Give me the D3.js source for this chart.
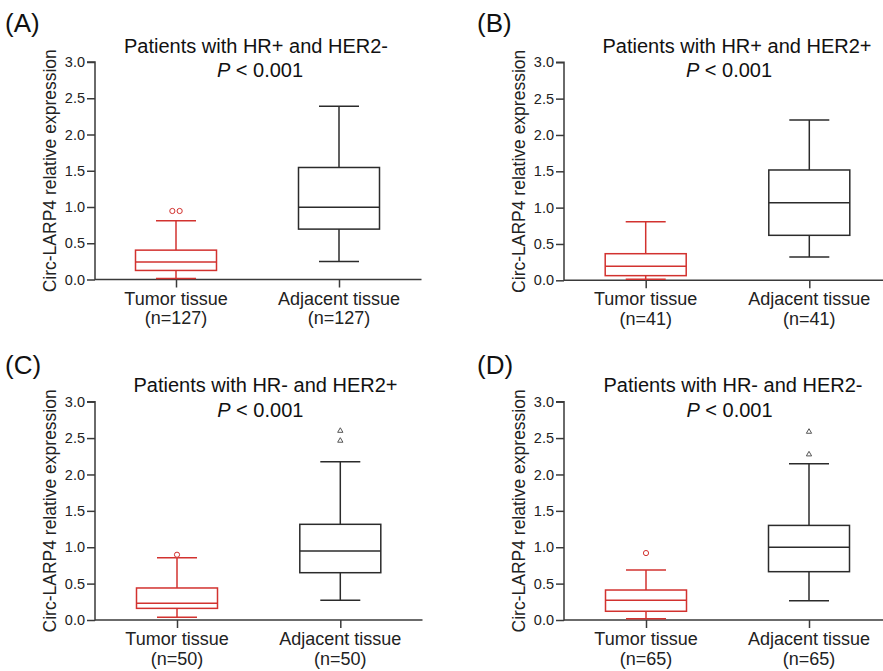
<!DOCTYPE html>
<html><head><meta charset="utf-8">
<script src="https://cdn.jsdelivr.net/npm/d3@7"></script>
<style>body{margin:0;background:#fff}svg{display:block}</style>
</head><body>
<svg id="chart" width="883" height="671"></svg>
<script>
// ---- data ----
const groups = ["Tumor tissue", "Adjacent tissue"];
const panelLabels = ["(A)", "(B)", "(C)", "(D)"];
const titles = ["Patients with HR+ and HER2-", "Patients with HR+ and HER2+", "Patients with HR- and HER2+", "Patients with HR- and HER2-"];
const sampleSizes = [127, 41, 50, 65];
const yTicks = [0, 0.5, 1.0, 1.5, 2.0, 2.5, 3.0];
// [min, q1, median, q3, max]
const tumorStats = [
  [0.014, 0.125, 0.24, 0.405, 0.81],
  [0.014, 0.064, 0.193, 0.366, 0.806],
  [0.037, 0.16, 0.229, 0.44, 0.856],
  [0.018, 0.12, 0.27, 0.412, 0.687]
];
const adjacentStats = [
  [0.25, 0.695, 0.995, 1.545, 2.39],
  [0.32, 0.619, 1.068, 1.518, 2.206],
  [0.27, 0.65, 0.948, 1.315, 2.175],
  [0.266, 0.664, 0.999, 1.30, 2.148]
];
const tumorOutliers = [[0.945, 0.945], [], [0.897], [0.92]];
const adjacentOutliers = [[], [], [2.60, 2.464], [2.587, 2.276]];
const yLabel = "Circ-LARP4 relative expression";

// ---- layout ----
const layout = [
  {ax: 95, y0: 279.5, y3: 62, xEnd: 421.5, cx: [176, 339], lab: [5, 32], t: [256, 53], p: [260, 77.3]},
  {ax: 564, y0: 280.3, y3: 62.3, xEnd: 883, cx: [645.7, 809.3], lab: [477, 32], t: [737, 53], p: [729, 77.3]},
  {ax: 95, y0: 620, y3: 401.7, xEnd: 422.5, cx: [177, 340.3], lab: [5, 374], t: [265.5, 392.3], p: [260.3, 417.3]},
  {ax: 564, y0: 620, y3: 401.7, xEnd: 883, cx: [646, 809], lab: [477, 374], t: [733, 392.3], p: [729.5, 417.3]}
];
const RED = "#d2322f", DARK = "#2b2b2b", AXIS = "#3a3a3a";
const FONT = "'Liberation Sans', Arial, sans-serif";
const boxW = 81, capW = 40;

const svg = d3.select("#chart").style("font-family", FONT);

layout.forEach((L, i) => {
  const g = svg.append("g");
  const y = d3.scaleLinear().domain([0, 3]).range([L.y0, L.y3]);
  const x = d3.scalePoint().domain(groups).range(L.cx);

  // y axis
  const yAxis = g.append("g").attr("transform", `translate(${L.ax},0)`)
    .call(d3.axisLeft(y).tickValues(yTicks).tickFormat(d3.format(".1f")).tickSize(8).tickPadding(2));
  yAxis.select(".domain").attr("d", `M-8,${y(3)}H0V${L.y0 + 0.5}`);
  yAxis.selectAll("path,line").attr("stroke", AXIS).attr("stroke-width", 1.5);
  yAxis.selectAll("text").attr("font-size", 14.5).attr("fill", "#222").attr("font-family", FONT);

  // x axis
  const xAxis = g.append("g").attr("transform", `translate(0,${L.y0})`)
    .call(d3.axisBottom(x).tickSize(8).tickFormat(""));
  xAxis.select(".domain").attr("d", `M${L.ax},0H${L.xEnd}`);
  xAxis.selectAll("path,line").attr("stroke", AXIS).attr("stroke-width", 1.5);

  // x labels
  groups.forEach(gr => {
    const t = g.append("text").attr("text-anchor", "middle").attr("font-size", 18).attr("fill", "#222");
    t.append("tspan").attr("x", x(gr)).attr("y", L.y0 + 25).text(gr);
    t.append("tspan").attr("x", x(gr)).attr("y", L.y0 + 44.5).text(`(n=${sampleSizes[i]})`);
  });

  // y label
  g.append("text")
    .attr("transform", `translate(${L.ax - 39},${(y(0) + y(3)) / 2}) rotate(-90)`)
    .attr("text-anchor", "middle").attr("font-size", 17.5).attr("fill", "#222").text(yLabel);

  // panel label
  g.append("text").attr("x", L.lab[0]).attr("y", L.lab[1]).attr("font-size", 26).attr("fill", "#111").text(panelLabels[i]);

  // titles
  g.append("text").attr("x", L.t[0]).attr("y", L.t[1]).attr("text-anchor", "middle").attr("font-size", 20).attr("fill", "#111").text(titles[i]);
  const pt = g.append("text").attr("x", L.p[0]).attr("y", L.p[1]).attr("text-anchor", "middle").attr("font-size", 20).attr("fill", "#111");
  pt.append("tspan").attr("font-style", "italic").text("P");
  pt.append("tspan").text(" < 0.001");

  // boxes
  const series = [
    {grp: groups[0], s: tumorStats[i], out: tumorOutliers[i], color: RED, sym: "circle"},
    {grp: groups[1], s: adjacentStats[i], out: adjacentOutliers[i], color: DARK, sym: "triangle"}
  ];
  series.forEach(S => {
    const cx = x(S.grp);
    const [mn, q1, md, q3, mx] = S.s;
    const bg = g.append("g").attr("stroke", S.color).attr("stroke-width", 1.5).attr("fill", "none");
    // whiskers
    bg.append("line").attr("x1", cx).attr("x2", cx).attr("y1", y(q3)).attr("y2", y(mx));
    bg.append("line").attr("x1", cx).attr("x2", cx).attr("y1", y(q1)).attr("y2", y(mn));
    bg.append("line").attr("x1", cx - capW / 2).attr("x2", cx + capW / 2).attr("y1", y(mx)).attr("y2", y(mx));
    bg.append("line").attr("x1", cx - capW / 2).attr("x2", cx + capW / 2).attr("y1", y(mn)).attr("y2", y(mn));
    // box
    bg.append("rect").attr("x", cx - boxW / 2).attr("width", boxW)
      .attr("y", y(q3)).attr("height", y(q1) - y(q3)).attr("fill", "#fff");
    bg.append("line").attr("x1", cx - boxW / 2).attr("x2", cx + boxW / 2).attr("y1", y(md)).attr("y2", y(md));
    // outliers (spread duplicates horizontally)
    const counts = d3.rollup(S.out, v => v.length, d => d);
    const seen = new Map();
    S.out.forEach(v => {
      const n = counts.get(v), k = seen.get(v) || 0; seen.set(v, k + 1);
      const ox = cx + (k - (n - 1) / 2) * 7.3;
      if (S.sym === "circle") {
        g.append("circle").attr("cx", ox).attr("cy", y(v)).attr("r", 2.6)
          .attr("fill", "#fff").attr("stroke", S.color).attr("stroke-width", 1);
      } else {
        g.append("path").attr("d", d3.symbol(d3.symbolTriangle, 12)())
          .attr("transform", `translate(${ox},${y(v)})`)
          .attr("fill", "#fff").attr("stroke", "#555").attr("stroke-width", 1);
      }
    });
  });
});
</script>
</body></html>
